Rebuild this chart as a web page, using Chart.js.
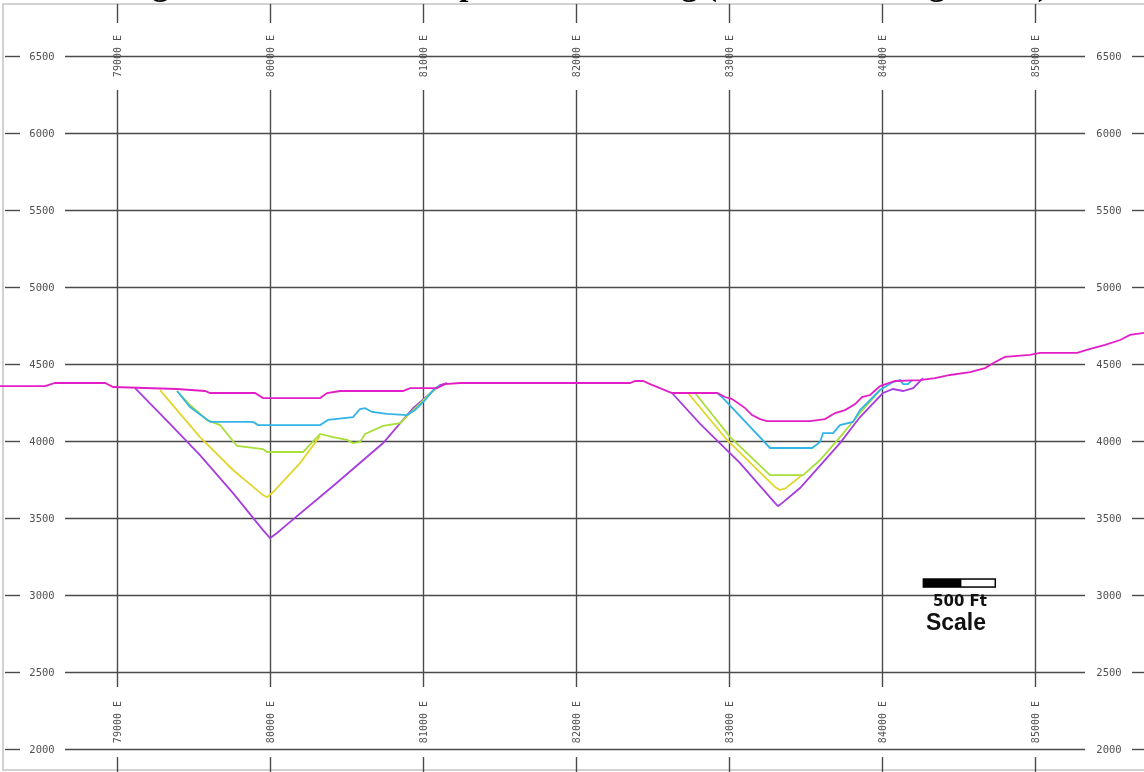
<!DOCTYPE html>
<html>
<head>
<meta charset="utf-8">
<title>Longitudinal Section</title>
<script src="https://cdn.jsdelivr.net/npm/chart.js@4.4.0/dist/chart.umd.min.js"></script>
<style>
  html, body { margin: 0; padding: 0; background: #ffffff; }
  #wrap { width: 1144px; height: 772px; position: relative; }
</style>
</head>
<body>
<div id="wrap"><canvas id="section" width="1144" height="772"></canvas></div>
<script>
// Section title (bold serif, runs off the top edge of the sheet)
const titleText = 'Longitudinal Section of Open Pits Looking (Section Looking North)';

// Grid ticks
const eastingTicks = [79000, 80000, 81000, 82000, 83000, 84000, 85000];
const elevationTicks = [2000, 2500, 3000, 3500, 4000, 4500, 5000, 5500, 6000, 6500];

// Ground surface profile (easting, elevation in ft)
const surfaceE = [78235, 78529, 78595, 78922, 78974, 79392, 79575, 79608, 79902, 79954, 80327, 80373, 80458, 80869,
  80915, 81092, 81144, 81242, 82353, 82386, 82438, 82484, 82627, 82922, 82974, 83020, 83105, 83150, 83203, 83248,
  83529, 83627, 83693, 83758, 83824, 83869, 83922, 83987, 84085, 84248, 84346, 84444, 84575, 84673, 84739, 84804,
  84967, 85033, 85275, 85360, 85458, 85556, 85621, 85712];
const surfaceZ = [4357, 4357, 4377, 4377, 4351, 4338, 4325, 4312, 4312, 4279, 4279, 4312, 4325, 4325,
  4344, 4344, 4370, 4377, 4377, 4390, 4390, 4370, 4312, 4312, 4286, 4273, 4214, 4169, 4143, 4130,
  4130, 4143, 4182, 4201, 4240, 4286, 4299, 4357, 4390, 4396, 4409, 4429, 4448, 4474, 4513, 4546,
  4559, 4572, 4572, 4598, 4624, 4656, 4689, 4702];

// Largest pit shell (purple); null separates the west and east pits
const purpleE = [79118, 79346, 79542, 79758, 79954, 80000, 80046, 80098, 80412, 80739, 80935, 81111, 81157, null,
  82627, 82811, 83072, 83301, 83320, 83346, 83464, 83725, 83856, 84006, 84072, 84137, 84203, 84268];
const purpleZ = [4344, 4111, 3909, 3662, 3422, 3370, 3403, 3448, 3708, 3987, 4214, 4364, 4377, null,
  4312, 4111, 3857, 3597, 3578, 3597, 3695, 3987, 4156, 4312, 4338, 4325, 4344, 4409];

// Yellow shell
const yellowE = [79281, 79542, 79758, 79954, 79980, 80020, 80196, 80327, null, 82732, 82987, 83301, 83333, 83372, 83477];
const yellowZ = [4331, 4026, 3812, 3649, 3636, 3669, 3857, 4033, null, 4312, 4007, 3701, 3682, 3695, 3779];

// Green shell
const greenE = [79392, 79477, 79588, 79673, 79784, 79954, 79980, 80216, 80327, 80412, 80503, 80542, 80588, 80621,
  80739, 80850, 80915, 81092, null, 82778, 83007, 83268, 83484, 83595, 83725, 83856, 83987];
const greenZ = [4325, 4234, 4137, 4104, 3968, 3948, 3929, 3929, 4046, 4026, 4007, 3987, 3994, 4046,
  4098, 4117, 4182, 4351, null, 4312, 4026, 3779, 3779, 3877, 4026, 4182, 4331];

// Cyan shell
const cyanE = [79392, 79477, 79608, 79889, 79922, 80327, 80379, 80542, 80588, 80621, 80667, 80765, 80895, 80948,
  81013, 81065, 81111, null, 82922, 82961, 83268, 83543, 83595, 83614, 83680, 83725, 83810, 83856, 83987,
  84072, 84118, 84137, 84170, 84196];
const cyanZ = [4325, 4221, 4124, 4124, 4104, 4104, 4137, 4156, 4208, 4214, 4189, 4176, 4169, 4202,
  4266, 4331, 4364, null, 4312, 4279, 3955, 3955, 3994, 4052, 4052, 4104, 4124, 4201, 4331,
  4383, 4396, 4370, 4370, 4396];

// Scale bar annotation
const scaleBarLabel = '500 Ft';
const scaleWord = 'Scale';

function toPoints(es, zs) {
  return es.map((e, i) => (e === null ? { x: es[i + 1], y: null } : { x: e, y: zs[i] }));
}

function seriesStyle(color) {
  return { borderColor: color, borderWidth: 1.8, pointRadius: 0, tension: 0, fill: false, spanGaps: false, showLine: true };
}

const sheetPlugin = {
  id: 'sheet',
  beforeDatasetsDraw(chart) {
    const ctx = chart.ctx;
    const xs = chart.scales.x, ys = chart.scales.y;
    const W = chart.width, H = chart.height;
    ctx.save();

    // title text clipped by the top edge
    ctx.fillStyle = '#000000';
    ctx.font = 'bold 33px "Liberation Serif"';
    ctx.textAlign = 'center';
    ctx.textBaseline = 'alphabetic';
    ctx.fillText(titleText, 572, -5);

    // sheet border
    ctx.strokeStyle = '#d2d2d2';
    ctx.lineWidth = 2;
    ctx.strokeRect(3, 4, W + 10, 766);

    const seg = (x1, y1, x2, y2) => { ctx.beginPath(); ctx.moveTo(x1, y1); ctx.lineTo(x2, y2); ctx.stroke(); };

    // elevation grid lines with labels on both sides
    ctx.strokeStyle = '#4a4a4a';
    ctx.lineWidth = 1.4;
    ctx.fillStyle = '#505050';
    ctx.textAlign = 'center';
    ctx.textBaseline = 'middle';
    ctx.font = '10.5px "DejaVu Sans Mono"';
    elevationTicks.forEach(v => {
      const y = Math.round(ys.getPixelForValue(v)) + 0.5;
      seg(5, y, 20, y);
      seg(65, y, 1085, y);
      seg(1132, y, W, y);
      ctx.fillText(String(v), 42, y + 0.5);
      ctx.fillText(String(v), 1109, y + 0.5);
    });

    // easting grid lines, broken around the rotated labels
    ctx.font = '10px "DejaVu Sans Mono"';
    const topLabelY = ys.getPixelForValue(6500);
    const botLabelY = ys.getPixelForValue(2000) - 27;
    eastingTicks.forEach(v => {
      const x = Math.round(xs.getPixelForValue(v)) + 0.5;
      seg(x, 4, x, 23);
      seg(x, topLabelY + 34, x, botLabelY - 35);
      seg(x, botLabelY + 35, x, H);
      [topLabelY, botLabelY].forEach(cy => {
        ctx.save();
        ctx.translate(x, cy);
        ctx.rotate(-Math.PI / 2);
        ctx.fillText(v + ' E', 0, 0.5);
        ctx.restore();
      });
    });
    ctx.restore();
  },
  afterDraw(chart) {
    const ctx = chart.ctx;
    const xs = chart.scales.x, ys = chart.scales.y;
    ctx.save();

    // 500 ft scale bar
    const x0 = xs.getPixelForValue(84270), x1 = xs.getPixelForValue(84520), x2 = xs.getPixelForValue(84740);
    const yT = ys.getPixelForValue(3104), yB = ys.getPixelForValue(3052);
    ctx.fillStyle = '#000000';
    ctx.fillRect(x0, yT, x1 - x0, yB - yT);
    ctx.fillStyle = '#ffffff';
    ctx.fillRect(x1, yT, x2 - x1, yB - yT);
    ctx.strokeStyle = '#000000';
    ctx.lineWidth = 1.5;
    ctx.strokeRect(x0, yT, x2 - x0, yB - yT);

    ctx.fillStyle = '#111111';
    ctx.textAlign = 'center';
    ctx.font = 'bold 15px "DejaVu Sans"';
    ctx.fillText(scaleBarLabel, 960, 606);
    ctx.font = 'bold 23px "Liberation Sans"';
    ctx.fillText(scaleWord, 956, 630);
    ctx.restore();
  }
};

new Chart(document.getElementById('section'), {
  type: 'scatter',
  data: {
    datasets: [
      Object.assign({ label: 'Surface', data: toPoints(surfaceE, surfaceZ) }, seriesStyle('#e41ec6')),
      Object.assign({ label: 'Cyan shell', data: toPoints(cyanE, cyanZ) }, seriesStyle('#33b4e6')),
      Object.assign({ label: 'Green shell', data: toPoints(greenE, greenZ) }, seriesStyle('#a8df3a')),
      Object.assign({ label: 'Yellow shell', data: toPoints(yellowE, yellowZ) }, seriesStyle('#e2d52c')),
      Object.assign({ label: 'Purple shell', data: toPoints(purpleE, purpleZ) }, seriesStyle('#a63ce0'))
    ]
  },
  options: {
    responsive: false,
    animation: false,
    devicePixelRatio: 1,
    layout: { padding: 0 },
    plugins: { legend: { display: false }, tooltip: { enabled: false }, title: { display: false } },
    scales: {
      x: { type: 'linear', min: 78235, max: 85712, display: false },
      y: { type: 'linear', min: 1851, max: 6864, display: false }
    }
  },
  plugins: [sheetPlugin]
});
</script>
</body>
</html>
